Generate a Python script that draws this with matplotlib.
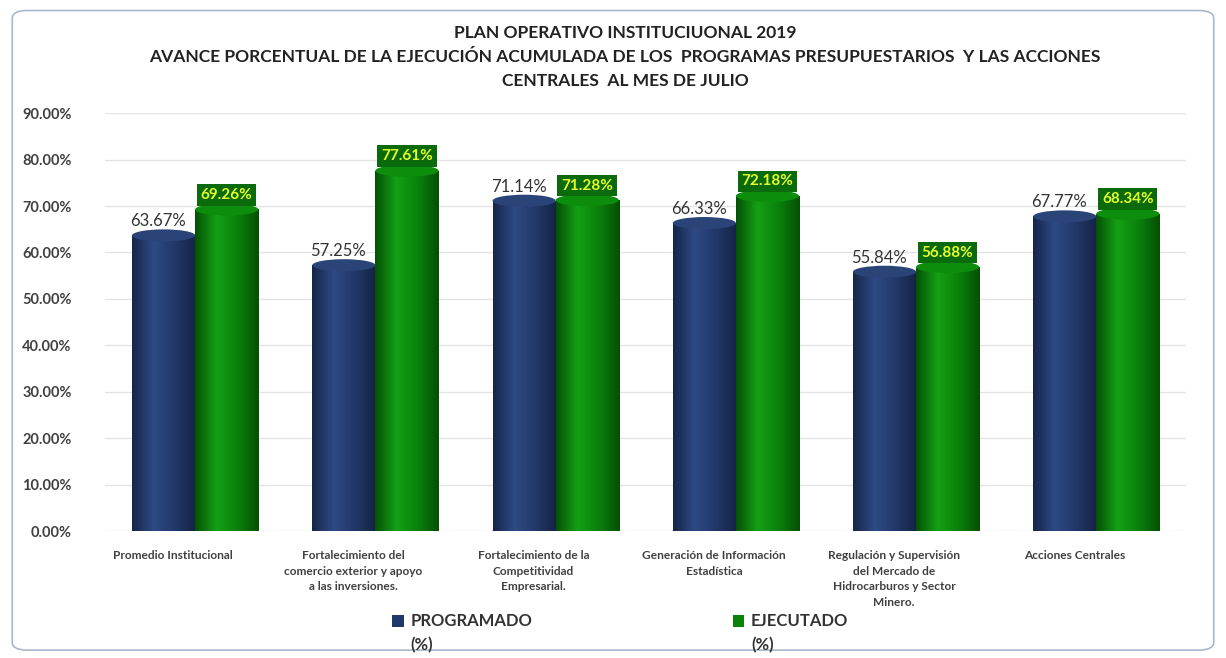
import matplotlib
matplotlib.use("Agg")
import matplotlib.pyplot as plt
import matplotlib.transforms as mtransforms
import numpy as np
from matplotlib.patches import Ellipse, Rectangle, FancyBboxPatch
from matplotlib.colors import LinearSegmentedColormap

plt.rcParams['font.family'] = ['Lato', 'DejaVu Sans']

# datos del grafico
categorias = ['Promedio Institucional',
              'Fortalecimiento del\ncomercio exterior y apoyo\na las inversiones.',
              'Fortalecimiento de la\nCompetitividad\nEmpresarial.',
              'Generación de Información\nEstadística',
              'Regulación y Supervisión\ndel Mercado de\nHidrocarburos y Sector\nMinero.',
              'Acciones Centrales']
programado = [63.67, 57.25, 71.14, 66.33, 55.84, 67.77]
ejecutado = [69.26, 77.61, 71.28, 72.18, 56.88, 68.34]
ticks_y = [0, 10, 20, 30, 40, 50, 60, 70, 80, 90]

azul = '#22386A'
verde = '#0A820A'
cmap_azul = LinearSegmentedColormap.from_list('az', ['#15264A', '#2E4A84', '#22386A', '#142444'])
cmap_verde = LinearSegmentedColormap.from_list('ve', ['#055205', '#14A014', '#0A820A', '#055005'])

fig = plt.figure(figsize=(12.26, 6.58), dpi=100)
marco = FancyBboxPatch((0.01, 0.012), 0.98, 0.972, boxstyle='round,pad=0,rounding_size=0.012',
                       transform=fig.transFigure, facecolor='white',
                       edgecolor='#A8B8CC', linewidth=1.2, zorder=-5)
fig.patches.append(marco)
ax = fig.add_axes([0.0857, 0.193, 0.882, 0.635])
ax.set_facecolor('none')

x = np.arange(len(categorias))
ancho = 0.35
cap = 2.6  # alto de la elipse superior (unidades de datos)


def cilindro(xc, v, cmap, color_tapa):
    x0, x1 = xc - ancho / 2, xc + ancho / 2
    grad = np.linspace(0, 1, 64).reshape(1, -1)
    im = ax.imshow(grad, cmap=cmap, extent=[x0, x1, 0, v], aspect='auto', zorder=3)
    rect = Rectangle((x0, 0), ancho, v, transform=ax.transData)
    im.set_clip_path(rect)
    ax.add_patch(Ellipse((xc, 0), ancho, cap, facecolor=cmap(0.5), edgecolor='none', zorder=2.9))
    ax.add_patch(Ellipse((xc, v), ancho, cap, facecolor=color_tapa, edgecolor='none', zorder=4))


for i in range(len(categorias)):
    cilindro(x[i] - ancho / 2, programado[i], cmap_azul, '#2B4478')
    cilindro(x[i] + ancho / 2, ejecutado[i], cmap_verde, '#0C8E0C')
    ax.text(x[i] - ancho / 2 - 0.03, programado[i] + 1.3, f'{programado[i]:.2f}%',
            ha='center', va='bottom', fontsize=12, color='#333333', zorder=6)
    ax.text(x[i] + ancho / 2, ejecutado[i] + 1.6, f'{ejecutado[i]:.2f}%',
            ha='center', va='bottom', fontsize=11, fontweight='bold', color='#E2FF2A', zorder=6,
            bbox=dict(boxstyle='square,pad=0.25', facecolor='#0B6A0B', edgecolor='none'))

ax.set_xlim(-0.5, len(categorias) - 0.5)
ax.set_ylim(0, 90)
ax.set_yticks(ticks_y)
ax.set_yticklabels([f'{t:.2f}%' for t in ticks_y], fontsize=10.5, fontweight='bold', color='#404040')
ax.set_xticks(x)
ax.set_xticklabels(categorias, fontsize=8.6, fontweight='bold', color='#404040', va='top', linespacing=1.5)
ax.tick_params(axis='both', length=0)
ax.tick_params(axis='x', pad=14)
ax.tick_params(axis='y', pad=24)
# etiquetas del eje x un poco a la izquierda (efecto perspectiva)
desplaza = mtransforms.ScaledTranslation(-0.22, 0, fig.dpi_scale_trans)
for lab in ax.get_xticklabels():
    lab.set_transform(lab.get_transform() + desplaza)
ax.grid(axis='y', color='#E4E4E4', linewidth=1)
ax.set_axisbelow(True)
for s in ax.spines.values():
    s.set_visible(False)

fig.text(0.51, 0.962, 'PLAN OPERATIVO INSTITUCIUONAL 2019\n'
         'AVANCE PORCENTUAL DE LA EJECUCIÓN ACUMULADA DE LOS  PROGRAMAS PRESUPUESTARIOS  Y LAS ACCIONES\n'
         'CENTRALES  AL MES DE JULIO',
         ha='center', va='top', fontsize=12.5, fontweight='bold', color='#222222', linespacing=1.6)

h1 = Rectangle((0, 0), 1, 1, facecolor=azul)
h2 = Rectangle((0, 0), 1, 1, facecolor=verde)
leg = fig.legend([h1, h2], ['PROGRAMADO\n(%)', 'EJECUTADO\n(%)'], loc='center', bbox_to_anchor=(0.506, 0.038),
                 ncol=2, frameon=False, handlelength=0.7, handleheight=0.7, handletextpad=0.4,
                 columnspacing=12, prop={'size': 12, 'weight': 'bold'}, labelcolor='#333333')
for t in leg.get_texts():
    t.set_linespacing(1.6)
# el cuadrito a la altura de la primera linea
for h in leg.legend_handles:
    h.set_y(h.get_y() + 9)

fig.savefig('out.png', dpi=100)
